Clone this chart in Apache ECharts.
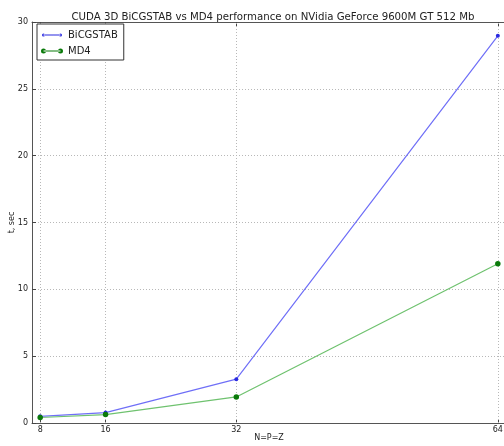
<!DOCTYPE html>
<html>
<head>
<meta charset="utf-8">
<script src="https://cdn.jsdelivr.net/npm/echarts@6/dist/echarts.min.js"></script>
<style>
  html, body { margin: 0; padding: 0; background: #fff; }
  #chart { width: 504px; height: 446px; }
</style>
</head>
<body>
<div id="chart"></div>
<script>
// Grid size N=P=Z and solve times (seconds)
const sizes = [8, 16, 32, 64];
const bicgstabTimes = [0.5, 0.78, 3.28, 28.97];
const md4Times = [0.41, 0.63, 1.95, 11.91];
const yTicks = [0, 5, 10, 15, 20, 25, 30];

const FONT = '"DejaVu Sans", sans-serif';
const gridDot = { color: '#b8b8b8', width: 1, type: [1, 2] };
const spine = { show: true, lineStyle: { color: '#555', width: 1 } };

// Legend icons: marker - line - marker, drawn in the series colour
const iconBlue = 'path://M0,0 L22,6 Z M1,3 a1.5,1.5 0 1,0 3,0 a1.5,1.5 0 1,0 -3,0 Z M2.5,2.5 L19.5,2.5 L19.5,3.5 L2.5,3.5 Z M18,3 a1.5,1.5 0 1,0 3,0 a1.5,1.5 0 1,0 -3,0 Z';
const iconGreen = 'path://M0,0 L22,6 Z M0,3 a2.5,2.5 0 1,0 5,0 a2.5,2.5 0 1,0 -5,0 Z M2.5,2.5 L19.5,2.5 L19.5,3.5 L2.5,3.5 Z M17,3 a2.5,2.5 0 1,0 5,0 a2.5,2.5 0 1,0 -5,0 Z';

const chart = echarts.init(document.getElementById('chart'), null, { renderer: 'canvas' });

chart.setOption({
  animation: false,
  backgroundColor: '#fff',
  textStyle: { fontFamily: FONT },
  title: {
    text: 'CUDA 3D BiCGSTAB vs MD4 performance on NVidia GeForce 9600M GT 512 Mb',
    left: 268, top: 7, textAlign: 'center',
    textStyle: { fontFamily: FONT, fontSize: 10.2, fontWeight: 'normal', color: '#222' }
  },
  legend: {
    orient: 'vertical',
    left: 37, top: 24,
    padding: [4, 6, 2, 4],
    itemGap: 2,
    itemWidth: 22, itemHeight: 6,
    itemStyle: { borderWidth: 0 },
    borderColor: '#333', borderWidth: 1, borderRadius: 0,
    backgroundColor: '#fff',
    textStyle: { fontFamily: FONT, fontSize: 10, color: '#222', lineHeight: 14 },
    data: [
      { name: 'BiCGSTAB', icon: iconBlue, itemStyle: { color: '#2a2ae0' } },
      { name: 'MD4', icon: iconGreen, itemStyle: { color: '#0a7a0a' } }
    ]
  },
  grid: { left: 32, right: -2, top: 22, bottom: 23, containLabel: false, outerBoundsMode: 'none' },
  xAxis: [
    {
      type: 'value', min: 7, max: 65, position: 'bottom',
      name: 'N=P=Z', nameLocation: 'middle', nameGap: 10.5, nameMoveOverlap: false,
      nameTextStyle: { fontFamily: FONT, fontSize: 8, color: '#222' },
      axisLine: spine,
      splitLine: { show: false },
      axisTick: { show: true, inside: true, length: 4, customValues: sizes, lineStyle: { color: '#444' } },
      axisLabel: { customValues: sizes, fontFamily: FONT, fontSize: 8, color: '#222', margin: 3 }
    },
    {
      type: 'value', min: 7, max: 65, position: 'top',
      axisLine: spine,
      splitLine: { show: false },
      axisTick: { show: true, inside: true, length: 4, customValues: sizes, lineStyle: { color: '#444' } },
      axisLabel: { show: false }
    }
  ],
  yAxis: {
    type: 'value', min: 0, max: 30, interval: 5,
    name: 't, sec', nameLocation: 'middle', nameGap: 16, nameRotate: 90, nameMoveOverlap: false,
    nameTextStyle: { fontFamily: FONT, fontSize: 8, color: '#222' },
    axisLine: spine,
    axisTick: { show: true, inside: true, length: 4, lineStyle: { color: '#444' } },
    splitLine: { show: true, lineStyle: gridDot },
    axisLabel: {
      fontFamily: FONT, fontSize: 8, color: '#222', margin: 4,
      formatter: v => (yTicks.indexOf(v) >= 0 ? String(v) : '')
    }
  },
  series: [
    {
      name: 'BiCGSTAB', type: 'line', xAxisIndex: 0,
      data: sizes.map((s, i) => [s, bicgstabTimes[i]]),
      lineStyle: { color: '#6f6ff7', width: 1.2 },
      itemStyle: { color: '#2a2ae0' },
      symbol: 'circle', symbolSize: 4, z: 3,
      markLine: {
        silent: true, symbol: 'none', label: { show: false },
        lineStyle: gridDot, z: 1,
        data: sizes.map(s => ({ xAxis: s }))
      }
    },
    {
      name: 'MD4', type: 'line', xAxisIndex: 0,
      data: sizes.map((s, i) => [s, md4Times[i]]),
      lineStyle: { color: '#6fc26f', width: 1.2 },
      itemStyle: { color: '#0a7a0a' },
      symbol: 'circle', symbolSize: 5.5, z: 3
    }
  ]
});
</script>
</body>
</html>
